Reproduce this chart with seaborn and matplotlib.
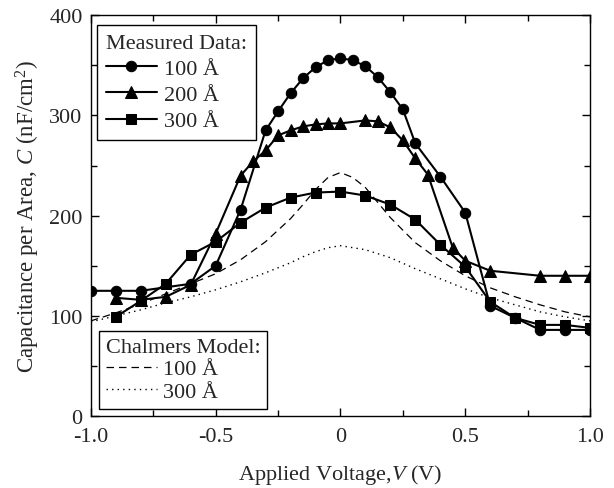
import numpy as np
import matplotlib
matplotlib.use("Agg")
import matplotlib.pyplot as plt
from matplotlib.ticker import MultipleLocator, FixedLocator, FixedFormatter
import seaborn as sns

v_100 = [-1.0, -0.9, -0.8, -0.6, -0.5, -0.4, -0.3, -0.25, -0.2, -0.15, -0.1, -0.05,
         0.0, 0.05, 0.1, 0.15, 0.2, 0.25, 0.3, 0.4, 0.5, 0.6, 0.7, 0.8, 0.9, 1.0]
c_100 = [125, 125, 125, 132, 150, 206, 285, 304, 322, 337, 348, 355,
         357, 355, 349, 338, 323, 306, 272, 239, 203, 110, 98, 86, 86, 86]

v_200 = [-0.9, -0.8, -0.7, -0.6, -0.5, -0.4, -0.35, -0.3, -0.25, -0.2, -0.15, -0.1, -0.05,
         0.0, 0.1, 0.15, 0.2, 0.25, 0.3, 0.35, 0.45, 0.5, 0.6, 0.8, 0.9, 1.0]
c_200 = [118, 116, 119, 131, 182, 240, 254, 265, 280, 285, 289, 291, 292,
         292, 295, 294, 288, 275, 257, 241, 168, 155, 145, 140, 140, 140]

v_300 = [-0.9, -0.8, -0.7, -0.6, -0.5, -0.4, -0.3, -0.2, -0.1, 0.0, 0.1, 0.2, 0.3,
         0.4, 0.5, 0.6, 0.7, 0.8, 0.9, 1.0]
c_300 = [99, 115, 132, 161, 174, 193, 208, 218, 223, 224, 220, 211, 196,
         171, 149, 114, 98, 91, 91, 88]

# Chalmers model curves
v_model = [-1.0, -0.9, -0.8, -0.7, -0.6, -0.5, -0.4, -0.3, -0.2, -0.15, -0.1, -0.05,
           0.0, 0.05, 0.1, 0.15, 0.2, 0.3, 0.4, 0.5, 0.6, 0.7, 0.8, 0.9, 1.0]
c_model_100 = [95, 103, 112, 122, 132, 142, 156, 174, 197, 211, 226, 238,
               243, 238, 228, 213, 198, 173, 155, 140, 128, 119, 111, 104, 99]
c_model_300 = [94, 100, 106, 113, 119, 126, 134, 143, 153, 159, 164, 168,
               170, 168, 166, 162, 158, 147, 137, 127, 118, 111, 104, 99, 95]

x_ticks = [-1.0, -0.5, 0.0, 0.5, 1.0]
x_tick_labels = ["-1.0", "-0.5", "0", "0.5", "1.0"]
y_ticks = [0, 100, 200, 300, 400]

sns.set_style("ticks")
plt.rcParams['font.family'] = ['Liberation Serif', 'DejaVu Serif']
plt.rcParams['mathtext.fontset'] = 'custom'
plt.rcParams['mathtext.rm'] = 'Liberation Serif'
plt.rcParams['mathtext.it'] = 'Liberation Serif:italic'
plt.rcParams['font.size'] = 16

fig = plt.figure(figsize=(6.14, 4.89), dpi=100)
ax = fig.add_axes([0.148, 0.147, 0.813, 0.820])

lw = 1.5
sns.lineplot(x=v_100, y=c_100, ax=ax, color='black', marker='o', markersize=7.5,
             markeredgecolor='black', linewidth=lw, label='100 Å')
sns.lineplot(x=v_200, y=c_200, ax=ax, color='black', marker='^', markersize=8,
             markeredgecolor='black', linewidth=lw, label='200 Å')
sns.lineplot(x=v_300, y=c_300, ax=ax, color='black', marker='s', markersize=6.5,
             markeredgecolor='black', linewidth=lw, label='300 Å')
sns.lineplot(x=v_model, y=c_model_100, ax=ax, color='black', linewidth=0.9,
             dashes=False, linestyle=(0, (6, 4)), label='100 Å ')
sns.lineplot(x=v_model, y=c_model_300, ax=ax, color='black', linewidth=1.0,
             dashes=False, linestyle=(0, (1, 3)), label='300 Å  ')

ax.set_xlim(-1.0, 1.0)
ax.set_ylim(0, 400)
ax.xaxis.set_major_locator(FixedLocator(x_ticks))
ax.xaxis.set_major_formatter(FixedFormatter(x_tick_labels))
ax.xaxis.set_minor_locator(MultipleLocator(0.25))
ax.yaxis.set_major_locator(FixedLocator(y_ticks))
ax.yaxis.set_minor_locator(MultipleLocator(50))
ax.tick_params(which='both', direction='in', top=True, right=True, labelsize=16,
               color='black', width=1)
ax.tick_params(which='major', length=6)
ax.tick_params(which='minor', length=4)
ax.tick_params(axis='x', which='major', pad=8)
ax.tick_params(axis='y', which='major', pad=6)
for s in ax.spines.values():
    s.set_linewidth(1.0)
    s.set_color('black')

ax.set_xlabel("Applied Voltage,$V$ (V)", fontsize=16, labelpad=11)
ax.set_ylabel("Capacitance per Area, $C$ (nF/cm$^2$)", fontsize=16.5, labelpad=5)

handles, labels = ax.get_legend_handles_labels()
leg_kw = dict(borderaxespad=0, fancybox=False, edgecolor='black', framealpha=1,
              fontsize=16, title_fontsize=16, handlelength=2.3, handletextpad=0.3,
              alignment='left')
leg1 = ax.legend(handles[:3], ['100 Å', '200 Å', '300 Å'], title='Measured Data:',
                 loc='upper left', bbox_to_anchor=(0.012, 0.975), borderpad=0.4,
                 labelspacing=0.25, **leg_kw)
leg1.get_frame().set_linewidth(1.0)
ax.add_artist(leg1)
leg2 = ax.legend(handles[3:], ['100 Å', '300 Å'], title='Chalmers Model:',
                 loc='lower left', bbox_to_anchor=(0.016, 0.018), borderpad=0.3,
                 labelspacing=0.1, **leg_kw)
leg2.get_frame().set_linewidth(1.0)

fig.savefig("out.png", dpi=100)
